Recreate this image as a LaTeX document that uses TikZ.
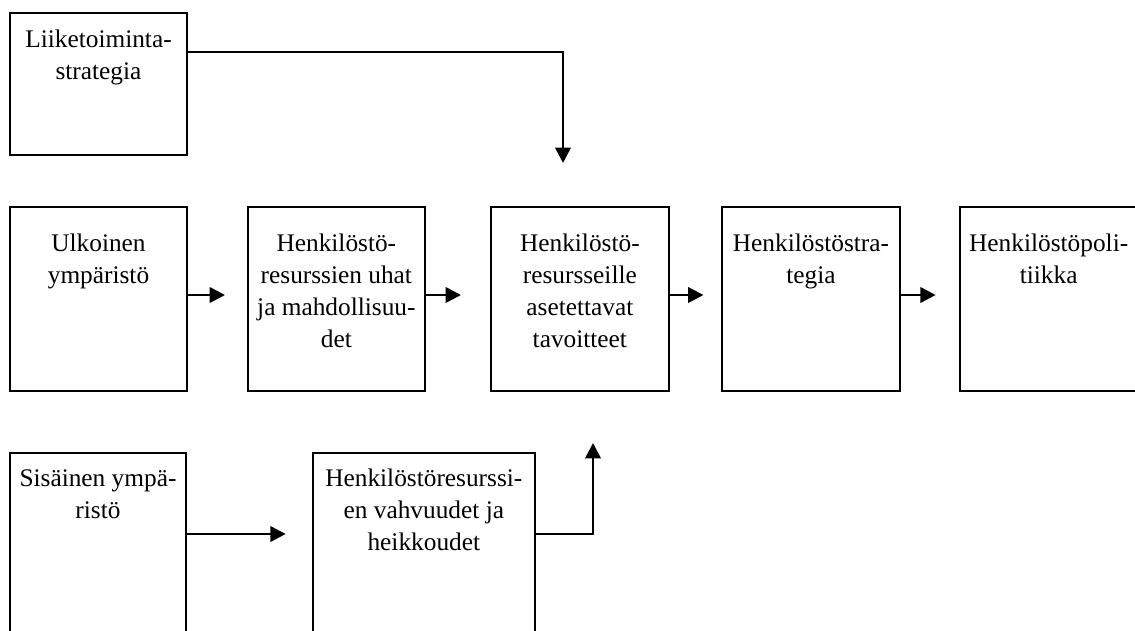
\documentclass[tikz,border=0pt]{standalone}
\usepackage{fontspec}
\setmainfont{Liberation Serif}
\usetikzlibrary{arrows.meta}
\newcommand{\boxtext}[4]{\parbox[c][#2][t]{#1}{\centering\rule{0pt}{#3}#4}}
\tikzset{
  box/.style={draw=black, line width=1.5pt, inner sep=0pt, anchor=north west,
              font=\fontsize{19pt}{24pt}\selectfont},
  arr/.style={draw=black, line width=2pt, line join=miter,
              -{Triangle[length=11.5pt,width=11.5pt]}}
}
\begin{document}
\begin{tikzpicture}[x=0.75pt,y=-0.75pt]
\useasboundingbox (0,0) rectangle (1135,631);
\clip (0,0) rectangle (1135,631);
\fill[white] (0,0) rectangle (1135,631);
% top box
\node[box] (T) at (9,12) {\boxtext{132.75pt}{106.5pt}{26.25pt}{Liiketoiminta-\\strategia}};
% row 2
\node[box] (B1) at (9,206) {\boxtext{132.75pt}{138pt}{33pt}{Ulkoinen\\ympäristö}};
\node[box] (B2) at (246.7,206) {\boxtext{133pt}{138pt}{33pt}{Henkilöstö-\\resurssien uhat\\ja mahdollisuu-\\det}};
\node[box] (B3) at (490,206) {\boxtext{133.3pt}{138pt}{33pt}{Henkilöstö-\\resursseille\\asetettavat\\tavoitteet}};
\node[box] (B4) at (721,206) {\boxtext{133.5pt}{138pt}{33pt}{Henkilöstöstra-\\tegia}};
\node[box] (B5) at (958.7,206) {\boxtext{133.5pt}{138pt}{33pt}{Henkilöstöpoli-\\tiikka}};
% row 3
\node[box] (C1) at (9,452) {\boxtext{132pt}{150pt}{24.75pt}{Sisäinen ympä-\\ristö}};
\node[box] (C2) at (311.7,452) {\boxtext{166.7pt}{150pt}{24.75pt}{Henkilöstöresurssi-\\en vahvuudet ja\\heikkoudet}};
% connector points
\coordinate (tB) at (563,52);
\coordinate (tA) at (563,163);
\coordinate (a1) at (225,295);
\coordinate (a2) at (461,295);
\coordinate (a3) at (703.5,295);
\coordinate (a4) at (935.7,295);
\coordinate (c1) at (285.7,534);
\coordinate (c2b) at (593,534);
\coordinate (c2) at (593,443);
% connectors
\draw[arr] (T.east |- tB) -- (tB) -- (tA);
\draw[arr] (B1.east |- a1) -- (a1);
\draw[arr] (B2.east |- a2) -- (a2);
\draw[arr] (B3.east |- a3) -- (a3);
\draw[arr] (B4.east |- a4) -- (a4);
\draw[arr] (C1.east |- c1) -- (c1);
\draw[arr] (C2.east |- c2b) -- (c2b) -- (c2);
\end{tikzpicture}
\end{document}
